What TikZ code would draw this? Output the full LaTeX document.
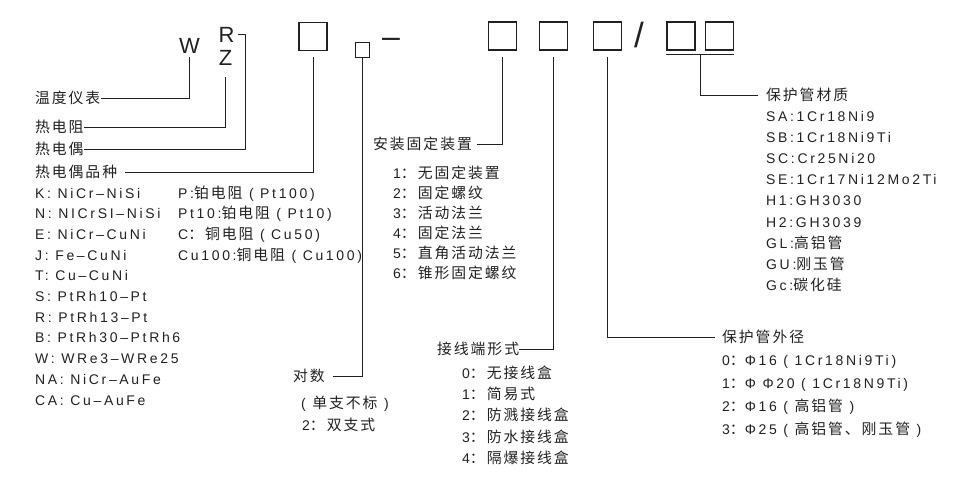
\documentclass[tikz,border=0pt]{standalone}
\usepackage{fontspec}
\setmainfont{Liberation Sans}[LetterSpace=19]
\newfontfamily\cjk{Noto Sans CJK SC}[Scale=1.06, LetterSpace=13]
\newfontfamily\plainfont{Liberation Sans}
\newcommand{\zh}[1]{{\cjk #1}}
\usetikzlibrary{calc,positioning}
\definecolor{ink}{gray}{0.13}
\tikzset{
  lab/.style   = {anchor=west, inner sep=0pt, text height=11pt, text depth=1pt,
                  font=\fontsize{14}{16}\selectfont, text=ink},
  big/.style   = {anchor=base, inner sep=0pt, font=\plainfont\fontsize{22}{24}\selectfont, text=ink},
  codebox/.style = {draw=ink, line width=1.1pt, minimum width=28pt, minimum height=28pt, inner sep=0pt},
  smallbox/.style = {draw=ink, line width=1pt, minimum width=14pt, minimum height=15pt, inner sep=0pt},
  conn/.style  = {draw=ink, line width=1pt},
}
\begin{document}
\begin{tikzpicture}[x=1pt,y=-1pt]
\useasboundingbox (0,0) rectangle (964,496);
% model code
\node[big] (W) at (189.5,53) {W};
\node[big] (R) at (226.5,42) {R};
\node[big] (Z) at (225.5,65) {Z};
\node[codebox] (b1) at (313,36.5) {};
\node[smallbox] (b2) at (362,49.5) {};
\node[big, font=\plainfont\fontsize{32}{34}\selectfont] (dash) at (391,47.8) {–};
\node[codebox] (b3) at (502.5,36) {};
\node[codebox] (b4) at (553.5,36) {};
\node[codebox] (b5) at (607.5,36) {};
\node[big, font=\plainfont\fontsize{35}{37}\selectfont] (slash) at (639,47.5) {/};
\node[codebox] (b6) at (681,36) {};
\node[codebox] (b7) at (719.5,36) {};

\node[lab] (wdyb) at (35,98) {\zh{温度仪表}};
\node[lab] (rdz) at (35,127) {\zh{热电阻}};
\node[lab] (rdo) at (35,149) {\zh{热电偶}};
\node[lab] (pz) at (35,172) {\zh{热电偶品种}};
\foreach \t [count=\i from 0] in {K: NiCr–NiSi, N: NICrSI–NiSi, E: NiCr–CuNi,
    J: Fe–CuNi, T: Cu–CuNi, S: PtRh10–Pt, R: PtRh13–Pt, B: PtRh30–PtRh6,
    W: WRe3–WRe25, NA: NiCr–AuFe, CA: Cu–AuFe}
  \node[lab] (tc\i) at (35,193+20.7*\i) {\t};
\foreach \t [count=\i from 0] in {P:\zh{铂电阻} ( Pt100), Pt10:\zh{铂电阻} ( Pt10),
    C\zh{：铜电阻} ( Cu50), Cu100:\zh{铜电阻} ( Cu100)}
  \node[lab] (rt\i) at (178,193+20.7*\i) {\t};

\node[lab] (ds) at (293,376) {\zh{对数}};
\node[lab] (ds1) at (301,403) {( \zh{单支不标} )};
\node[lab] (ds2) at (302,425) {2\zh{：双支式}};

\node[lab] (az) at (373,144) {\zh{安装固定装置}};
\foreach \t [count=\i from 0] in {1\zh{：无固定装置}, 2\zh{：固定螺纹}, 3\zh{：活动法兰},
    4\zh{：固定法兰}, 5\zh{：直角活动法兰}, 6\zh{：锥形固定螺纹}}
  \node[lab] (az\i) at (393,173+20*\i) {\t};

\node[lab] (jx) at (437,349) {\zh{接线端形式}};
\foreach \t [count=\i from 0] in {0\zh{：无接线盒}, 1\zh{：简易式}, 2\zh{：防溅接线盒},
    3\zh{：防水接线盒}, 4\zh{：隔爆接线盒}}
  \node[lab] (jx\i) at (462,373+21.4*\i) {\t};

\node[lab] (wj) at (722,337) {\zh{保护管外径}};
\foreach \t [count=\i from 0] in {0\zh{：}Φ16 ( 1Cr18Ni9Ti), 1\zh{：}Φ Φ20 ( 1Cr18N9Ti),
    2\zh{：}Φ16 ( \zh{高铝管} ), 3\zh{：}Φ25 ( \zh{高铝管、刚玉管} )}
  \node[lab] (wj\i) at (722,360+23*\i) {\t};

\node[lab] (cz) at (766,95) {\zh{保护管材质}};
\foreach \t [count=\i from 0] in {SA:1Cr18Ni9, SB:1Cr18Ni9Ti, SC:Cr25Ni20,
    SE:1Cr17Ni12Mo2Ti, H1:GH3030, H2:GH3039, GL:\zh{高铝管}, GU:\zh{刚玉管}, Gc:\zh{碳化硅}}
  \node[lab] (cz\i) at (766,116+21.2*\i) {\t};

% leaders
\draw[conn, shorten <=4pt] (W.south) |- (wdyb.east);
\draw[conn, shorten <=3pt] (R.east) -- ++(10.5,0) |- (rdo.east);
\draw[conn, shorten <=12pt] (Z.south) |- (rdz.east);
\draw[conn, shorten <=6pt, shorten >=8pt] (b1.south) |- (pz.east);
\draw[conn, shorten >=8pt] (b2.south) |- (ds.east);
\draw[conn, shorten <=6pt, shorten >=5pt] (b3.south) |- (az.east);
\draw[conn, shorten <=6pt] (b4.south) |- (jx.east);
\draw[conn, shorten <=6pt, shorten >=7pt] (b5.south) |- (wj.west);
\draw[conn] ([yshift=-4pt]b6.south west) -- ([yshift=-4pt]b7.south east);
\coordinate (ulm) at ($(b6.south)!.5!(b7.south)+(0,4)$);
\draw[conn, shorten >=8pt] (ulm) |- (cz.west);
\end{tikzpicture}
\end{document}
